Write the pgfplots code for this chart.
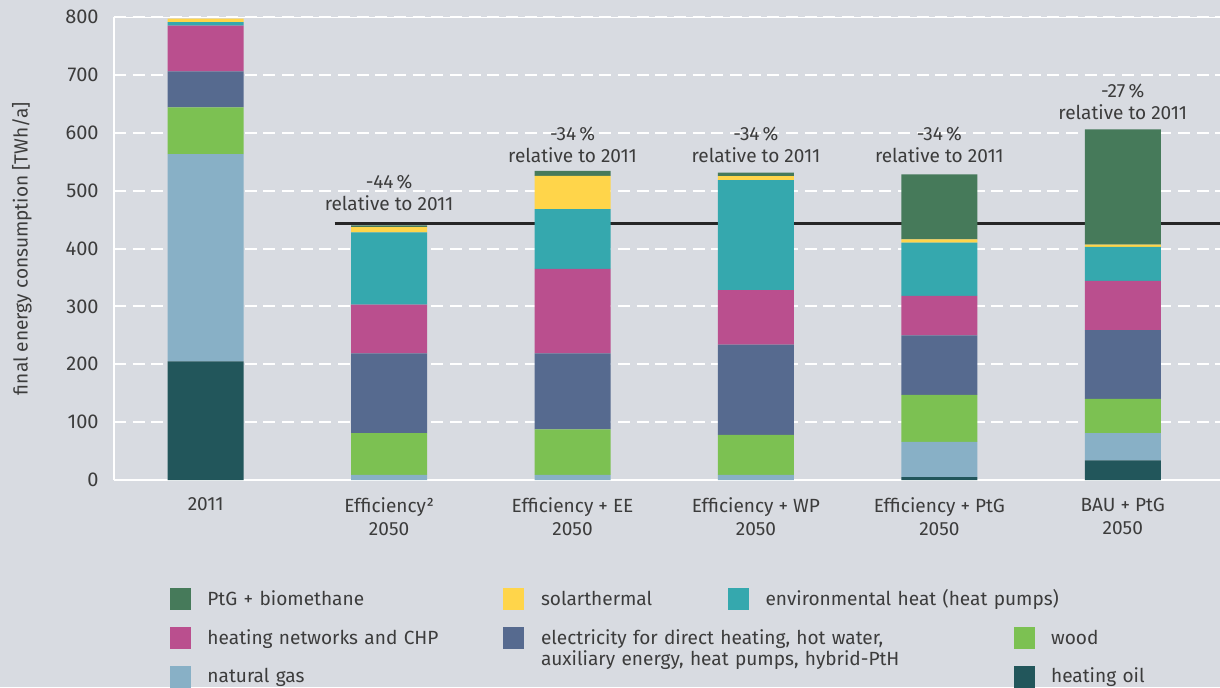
\documentclass[border=0pt]{standalone}
\usepackage{fontspec}
\setmainfont{Fira Sans}
\usepackage{pgfplots}
\pgfplotsset{compat=1.18}
\definecolor{bg}{HTML}{D8DBE1}
\definecolor{txt}{HTML}{3C3C3C}
\definecolor{ptg}{HTML}{467A5A}
\definecolor{solar}{HTML}{FFD54A}
\definecolor{env}{HTML}{35A8AE}
\definecolor{net}{HTML}{BA4F8E}
\definecolor{elec}{HTML}{566A8F}
\definecolor{wood}{HTML}{7CC152}
\definecolor{gas}{HTML}{88B0C6}
\definecolor{oil}{HTML}{22565B}
\newcommand\ff{\fontsize{14.3}{17.25}\selectfont}
\begin{document}
\begin{tikzpicture}[font=\ff, text=txt]
\path[use as bounding box, fill=bg] (0,0) rectangle (915pt,515.25pt);
\begin{axis}[
  at={(85.5pt,155.25pt)}, anchor=south west,
  width=829.5pt, height=347.25pt, scale only axis,
  xmin=-0.5, xmax=5.53, ymin=0, ymax=800,
  ybar stacked, bar width=57pt,
  axis x line*=bottom, axis y line*=left,
  axis line style={white, line width=1.5pt},
  xtick={0,...,5},
  xticklabels={2011,{Efficiency²\\2050},{Efficiency + EE\\2050},{Efficiency + WP\\2050},{Efficiency + PtG\\2050},{BAU + PtG\\2050}},
  xticklabel style={align=center, yshift=-10pt, text=txt, font=\ff},
  ytick={0,100,...,800},
  yticklabel style={xshift=-8pt, text=txt, font=\fontsize{15}{17}\selectfont},
  /pgf/number format/assume math mode=true,
  major tick length=0pt,
  ymajorgrids,
  major grid style={white, line width=1.5pt, dash pattern=on 9pt off 5pt},
  ylabel={final energy consumption [TWh/a]},
  ylabel style={at={(axis description cs:-0.0832,0.5)}, anchor=center, text=txt, font=\ff},
  sq/.style={legend image code/.code={\fill[#1] (0pt,-7.875pt) rectangle (15pt,7.875pt);}},
  legend style={at={(0.0506,-0.2343)}, anchor=north west, draw=none, fill=none,
    inner sep=0pt, outer sep=0pt, column sep=0pt, row sep=12.75pt,
    nodes={inner sep=0pt, anchor=west, align=left, text=txt, text height=10pt, text depth=0pt, font=\ff},
    /tikz/every odd column/.append style={column sep=12.75pt},
    /tikz/every even column/.append style={column sep=0pt},
    /tikz/column 2/.append style={text width=222pt},
    /tikz/column 4/.append style={text width=140.25pt},
    /tikz/column 6/.append style={text width=186pt},
    /tikz/column 8/.append style={text width=120pt}},
  legend columns=4,
]
\addplot[fill=oil, draw=none, forget plot] coordinates {(0,205)(1,0)(2,0)(3,0)(4,5)(5,34)};
\addplot[fill=gas, draw=none, forget plot] coordinates {(0,358)(1,9)(2,9)(3,9)(4,61)(5,47)};
\addplot[fill=wood, draw=none, forget plot] coordinates {(0,81)(1,72)(2,78.5)(3,69)(4,81)(5,59)};
\addplot[fill=elec, draw=none, forget plot] coordinates {(0,62)(1,138)(2,131.5)(3,156)(4,103)(5,119)};
\addplot[fill=net, draw=none, forget plot] coordinates {(0,79)(1,84)(2,146)(3,94)(4,68)(5,85)};
\addplot[fill=env, draw=none, forget plot] coordinates {(0,6)(1,125)(2,103)(3,190)(4,92)(5,59)};
\addplot[fill=solar, draw=none, forget plot] coordinates {(0,6)(1,9)(2,57.6)(3,7)(4,6)(5,3.5)};
\addplot[fill=ptg, draw=none, forget plot] coordinates {(0,0)(1,3)(2,8.4)(3,6)(4,112)(5,199.5)};
\draw[white, line width=1.5pt] (axis cs:-0.5,800) -- (axis cs:5.53,800);
\draw[black!85, line width=2.2pt] (axis cs:0.703,444) -- (axis cs:5.53,444);
\node[align=center, font=\fontsize{14.3}{16.5}\selectfont] at (axis cs:1,497) {-44\,\%\\relative to 2011};
\node[align=center, font=\fontsize{14.3}{16.5}\selectfont] at (axis cs:2,580) {-34\,\%\\relative to 2011};
\node[align=center, font=\fontsize{14.3}{16.5}\selectfont] at (axis cs:3,580) {-34\,\%\\relative to 2011};
\node[align=center, font=\fontsize{14.3}{16.5}\selectfont] at (axis cs:4,580) {-34\,\%\\relative to 2011};
\node[align=center, font=\fontsize{14.3}{16.5}\selectfont] at (axis cs:5,653) {-27\,\%\\relative to 2011};
% legend, row 1
\addlegendimage{sq=ptg}\addlegendentry{PtG + biomethane}
\addlegendimage{sq=solar}\addlegendentry{solarthermal}
\addlegendimage{sq=env}\addlegendentry{\mbox{environmental heat (heat pumps)}}
\addlegendimage{empty legend}\addlegendentry{}
% row 2
\addlegendimage{sq=net}\addlegendentry{heating networks and CHP}
\addlegendimage{sq=elec}\addlegendentry{\smash{\fontsize{14.3}{14.5}\selectfont\begin{tabular}[t]{@{}l@{}}electricity for direct heating, hot water,\\auxiliary energy, heat pumps, hybrid-PtH\end{tabular}}}
\addlegendimage{empty legend}\addlegendentry{}
\addlegendimage{sq=wood}\addlegendentry{wood}
% row 3
\addlegendimage{sq=gas}\addlegendentry{natural gas}
\addlegendimage{empty legend}\addlegendentry{}
\addlegendimage{empty legend}\addlegendentry{}
\addlegendimage{sq=oil}\addlegendentry{heating oil}
\end{axis}
\end{tikzpicture}
\end{document}
